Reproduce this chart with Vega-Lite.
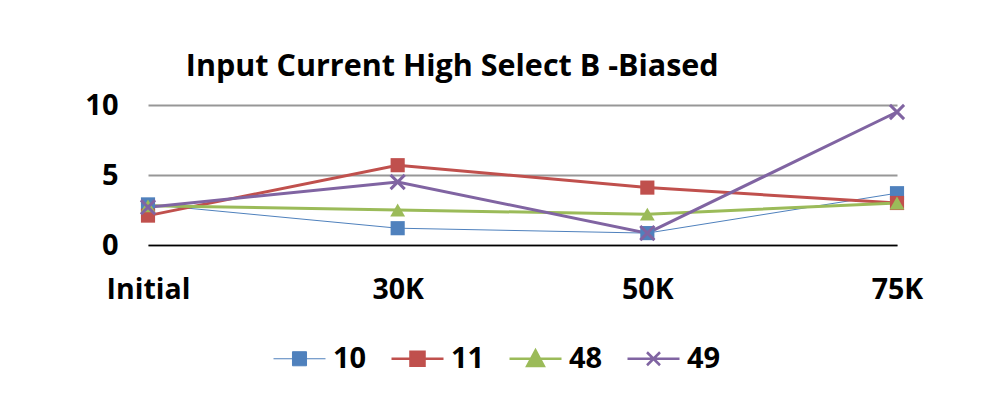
{
  "$schema": "https://vega.github.io/schema/vega-lite/v6.json",
  "autosize": "none",
  "width": 749,
  "height": 140,
  "padding": {"left": 148, "top": 105, "right": 90, "bottom": 157},
  "background": "white",
  "config": {
    "font": "Open Sans",
    "view": {"stroke": null}
  },
  "title": {
    "text": "Input Current High Select B -Biased",
    "anchor": "start",
    "dx": 101,
    "offset": 9,
    "fontSize": 30.5,
    "fontWeight": "bold",
    "color": "black",
    "font": "Open Sans"
  },
  "data": {
    "values": [
      {"stage": "Initial", "series": "10", "value": 2.9},
      {"stage": "30K", "series": "10", "value": 1.2},
      {"stage": "50K", "series": "10", "value": 0.85},
      {"stage": "75K", "series": "10", "value": 3.7},
      {"stage": "Initial", "series": "11", "value": 2.1},
      {"stage": "30K", "series": "11", "value": 5.7},
      {"stage": "50K", "series": "11", "value": 4.1},
      {"stage": "75K", "series": "11", "value": 3.0},
      {"stage": "Initial", "series": "48", "value": 2.8},
      {"stage": "30K", "series": "48", "value": 2.5},
      {"stage": "50K", "series": "48", "value": 2.2},
      {"stage": "75K", "series": "48", "value": 3.0},
      {"stage": "Initial", "series": "49", "value": 2.7},
      {"stage": "30K", "series": "49", "value": 4.5},
      {"stage": "50K", "series": "49", "value": 0.85},
      {"stage": "75K", "series": "49", "value": 9.5}
    ]
  },
  "encoding": {
    "x": {
      "field": "stage",
      "type": "ordinal",
      "sort": ["Initial", "30K", "50K", "75K"],
      "scale": {"type": "point", "padding": 0},
      "axis": {
        "title": null,
        "labelAngle": 0,
        "labelFontSize": 28.5,
        "labelFontWeight": "bold",
        "labelColor": "black",
        "labelPadding": 30,
        "ticks": false,
        "domainColor": "black",
        "domainWidth": 1.5,
        "grid": false
      }
    },
    "y": {
      "field": "value",
      "type": "quantitative",
      "scale": {"domain": [0, 10]},
      "axis": {
        "title": null,
        "values": [0, 5, 10],
        "labelFontSize": 29,
        "labelFontWeight": "bold",
        "labelColor": "black",
        "labelPadding": 30,
        "ticks": false,
        "domain": false,
        "grid": true,
        "gridColor": "#979797",
        "gridWidth": 2
      }
    },
    "color": {
      "field": "series",
      "type": "nominal",
      "scale": {"domain": ["10", "11", "48", "49"], "range": ["#4F81BD", "#C0504D", "#9BBB59", "#8064A2"]},
      "legend": {
        "title": null,
        "orient": "none",
        "direction": "horizontal",
        "legendX": 137,
        "legendY": 239,
        "labelFontSize": 29,
        "labelFontWeight": "bold",
        "labelColor": "black",
        "symbolSize": 2704,
        "labelOffset": 19,
        "columnPadding": 19,
        "symbolStrokeWidth": 2.5,
        "encode": {
          "symbols": {
            "update": {
              "shape": {"signal": "datum.value === '48' ? 'M-1,0H1M0,-0.32L0.32,0.28L-0.32,0.28Z' : datum.value === '49' ? 'M-1,0H1M-0.25,-0.25L0.25,0.25M-0.25,0.25L0.25,-0.25' : 'M-1,0H1M-0.27,-0.27H0.27V0.27H-0.27Z'"},
              "fill": {"scale": "color", "field": "value"},
              "stroke": {"scale": "color", "field": "value"},
              "strokeWidth": {"signal": "datum.value === '10' ? 1 : 2.5"},
              "fillOpacity": {"value": 1},
              "strokeOpacity": {"value": 1}
            }
          }
        }
      }
    }
  },
  "layer": [
    {
      "mark": {"type": "line"},
      "encoding": {
        "strokeWidth": {"condition": {"test": "datum.series === '10'", "value": 1}, "value": 3}
      }
    },
    {
      "transform": [{"filter": "datum.series !== '49'"}],
      "mark": {"type": "point", "filled": true, "opacity": 1},
      "encoding": {
        "shape": {"condition": {"test": "datum.series === '48'", "value": "triangle-up"}, "value": "square"},
        "size": {"condition": {"test": "datum.series === '48'", "value": 220}, "value": 200}
      }
    },
    {
      "transform": [{"filter": "datum.series === '49'"}],
      "mark": {"type": "point", "filled": false, "opacity": 1, "shape": "M-1,-1L1,1M-1,1L1,-1", "size": 200, "strokeWidth": 3}
    }
  ]
}
